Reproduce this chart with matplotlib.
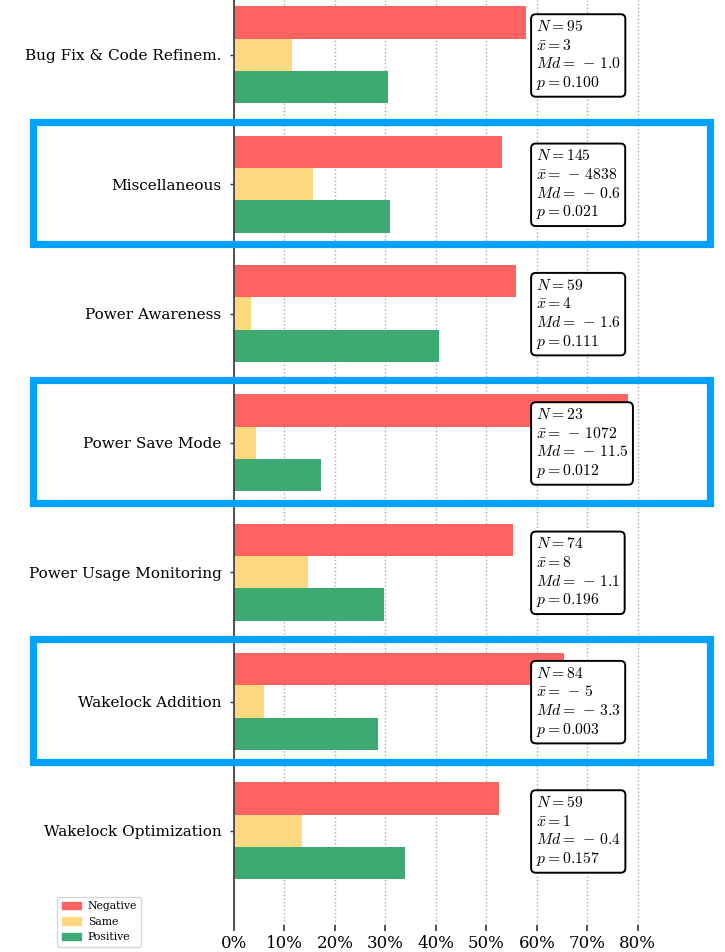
import matplotlib
matplotlib.use("Agg")
import matplotlib.pyplot as plt
import matplotlib.transforms as mtransforms
from matplotlib.patches import Patch, Rectangle
import numpy as np

categories = ["Bug Fix & Code Refinem.", "Miscellaneous", "Power Awareness",
              "Power Save Mode", "Power Usage Monitoring", "Wakelock Addition",
              "Wakelock Optimization"]
negative = [0.578, 0.531, 0.558, 0.780, 0.552, 0.653, 0.525]
same = [0.115, 0.156, 0.034, 0.044, 0.147, 0.059, 0.135]
positive = [0.305, 0.309, 0.406, 0.172, 0.297, 0.285, 0.339]
n_vals = [95, 145, 59, 23, 74, 84, 59]
mean_vals = ["3", "-4838", "4", "-1072", "8", "-5", "1"]
md_vals = ["-1.0", "-0.6", "-1.6", "-11.5", "-1.1", "-3.3", "-0.4"]
p_vals = ["0.100", "0.021", "0.111", "0.012", "0.196", "0.003", "0.157"]
highlighted = ["Miscellaneous", "Power Save Mode", "Wakelock Addition"]

plt.rcParams["font.family"] = "DejaVu Serif"
plt.rcParams["mathtext.fontset"] = "cm"

c_neg, c_same, c_pos = "#FF6361", "#FFD980", "#3CAA71"


def fmt(v):
    # old-style binary minus spacing
    return v.replace("-", r"\,-\,")


fig = plt.figure(figsize=(7.25, 9.52), dpi=100)
ax = fig.add_axes([234 / 725, 1 - 925 / 952, (663 - 234) / 725, 925 / 952])

y = np.arange(len(categories))
h = 0.25
ax.barh(y - h, negative, height=h, color=c_neg, zorder=2)
ax.barh(y, same, height=h, color=c_same, zorder=2)
ax.barh(y + h, positive, height=h, color=c_pos, zorder=2)

for i in range(len(categories)):
    txt = (r"$N = %d$" "\n" r"$\bar{x} = %s$" "\n" r"$Md = %s$" "\n" r"$p = %s$"
           % (n_vals[i], fmt(mean_vals[i]), fmt(md_vals[i]), p_vals[i]))
    ax.text(0.598, i, txt, ha="left", va="center", fontsize=11.3, zorder=5,
            linespacing=1.13,
            bbox=dict(boxstyle="round,pad=0.3", facecolor="white",
                      edgecolor="black", linewidth=1.4))

ax.set_yticks(y)
ax.set_yticklabels(categories, fontsize=11)
ax.set_ylim(6.727, -0.425)
ax.set_xlim(0, 0.85)
ax.set_xticks(np.arange(0, 0.81, 0.1))
ax.set_xticklabels(["%d%%" % round(v * 100) for v in np.arange(0, 0.81, 0.1)], fontsize=12)
ax.xaxis.grid(True, linestyle=":", color="#aaaaaa", linewidth=1.0, zorder=0)
ax.set_axisbelow(True)
for side in ("top", "right", "bottom"):
    ax.spines[side].set_visible(False)
ax.spines["left"].set_color("#444444")
ax.spines["left"].set_linewidth(1.3)
ax.tick_params(axis="x", length=4, width=1.2, color="#333333")
ax.tick_params(axis="y", length=3, width=1.0, color="#333333", pad=6)

trans = mtransforms.blended_transform_factory(fig.transFigure, ax.transData)
for i, c in enumerate(categories):
    if c in highlighted:
        r = Rectangle((33 / 725, i - 0.485), (710 - 33) / 725, 0.95, transform=trans,
                      fill=False, edgecolor="#00A2FF", linewidth=5.2,
                      clip_on=False, zorder=10)
        fig.add_artist(r)

handles = [Patch(color=c_neg, label="Negative"), Patch(color=c_same, label="Same"),
           Patch(color=c_pos, label="Positive")]
fig.legend(handles=handles, loc="lower left", bbox_to_anchor=(52 / 725, 0),
           fontsize=7.8, frameon=True, handlelength=1.8, borderpad=0.4,
           handletextpad=0.6)

fig.savefig("out.png", dpi=100)
